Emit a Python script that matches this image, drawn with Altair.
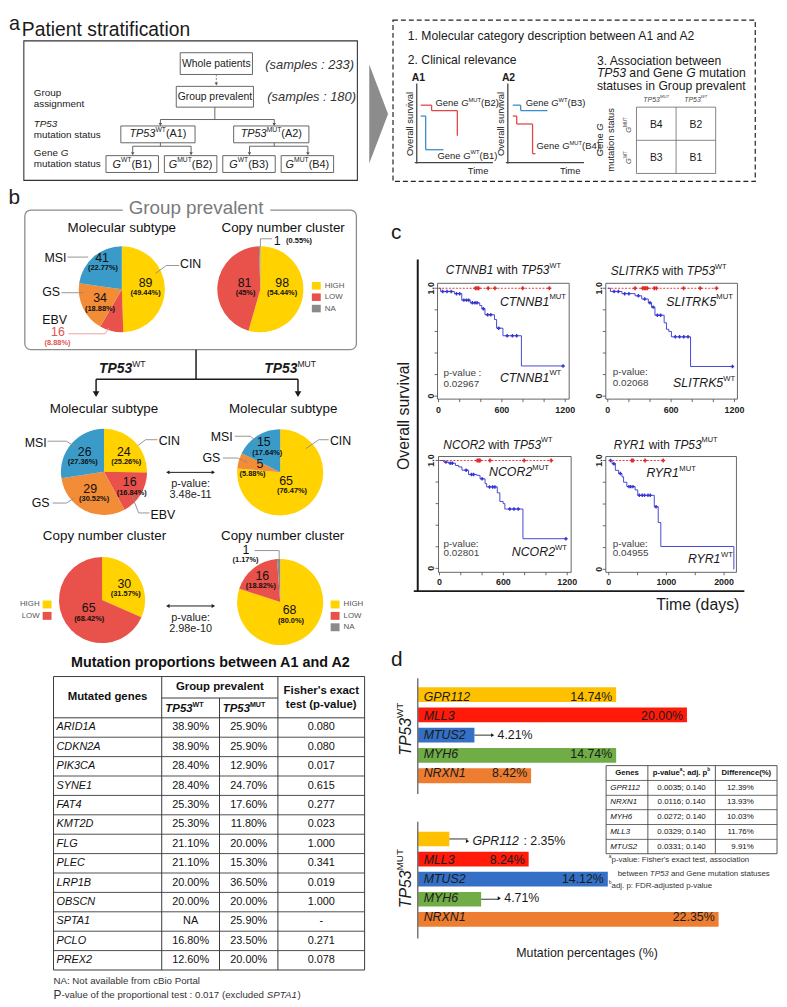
import altair as alt
import pandas as pd

FONT = "Liberation Sans"
OX, OY = 8, 8
W, H = 779, 999
INK = "#1a1a1a"

# ====================================================================== DATA
samples_whole = 233
samples_prev = 180

gp_sub_cat = ["CIN", "EBV", "GS", "MSI"]
gp_sub_n = [89, 16, 34, 41]
gp_sub_pct = ["49.44%", "8.88%", "18.88%", "22.77%"]
gp_cn_cat = ["HIGH", "LOW", "NA"]
gp_cn_n = [98, 81, 1]
gp_cn_pct = ["54.44%", "45%", "0.55%"]
wt_sub_cat = ["CIN", "EBV", "GS", "MSI"]
wt_sub_n = [24, 16, 29, 26]
wt_sub_pct = ["25.26%", "16.84%", "30.52%", "27.36%"]
mut_sub_cat = ["CIN", "GS", "MSI"]
mut_sub_n = [65, 5, 15]
mut_sub_pct = ["76.47%", "5.88%", "17.64%"]
wt_cn_cat = ["HIGH", "LOW"]
wt_cn_n = [30, 65]
wt_cn_pct = ["31.57%", "68.42%"]
mut_cn_cat = ["HIGH", "LOW", "NA"]
mut_cn_n = [68, 16, 1]
mut_cn_pct = ["80.0%", "18.82%", "1.17%"]
p_subtype = "3.48e-11"
p_cn = "2.98e-10"

tbl_genes = ["ARID1A", "CDKN2A", "PIK3CA", "SYNE1", "FAT4", "KMT2D", "FLG",
             "PLEC", "LRP1B", "OBSCN", "SPTA1", "PCLO", "PREX2"]
tbl_wt = ["38.90%", "38.90%", "28.40%", "28.40%", "25.30%", "25.30%", "21.10%",
          "21.10%", "20.00%", "20.00%", "NA", "16.80%", "12.60%"]
tbl_mut = ["25.90%", "25.90%", "12.90%", "24.70%", "17.60%", "11.80%", "20.00%",
           "15.30%", "36.50%", "20.00%", "25.90%", "23.50%", "20.00%"]
tbl_fisher = ["0.080", "0.080", "0.017", "0.615", "0.277", "0.023", "1.000",
              "0.341", "0.019", "1.000", "-", "0.271", "0.078"]
prop_test_p = "0.017"

km_genes = ["CTNNB1", "SLITRK5", "NCOR2", "RYR1"]
km_status = ["WT", "WT", "WT", "MUT"]
km_pvals = ["0.02967", "0.02068", "0.02801", "0.04955"]

km1_t = [0, 20, 150, 220, 300, 390, 410, 440, 530, 550, 610, 785, 1180]
km1_s = [1.0, 0.97, 0.95, 0.89, 0.865, 0.84, 0.81, 0.755, 0.71, 0.63, 0.56, 0.28, 0.28]
km1_ct = [40, 80, 120, 170, 200, 240, 265, 285, 320, 345, 365, 425, 465, 495, 570, 650, 700, 740, 1180]
km1_cs = [0.97, 0.97, 0.97, 0.95, 0.95, 0.89, 0.89, 0.89, 0.865, 0.865, 0.865, 0.81, 0.755, 0.755,
          0.63, 0.56, 0.56, 0.56, 0.28]
km1_mut_end = 1050
km1_mut_c = [350, 365, 380, 470, 534, 797, 1050]

km2_t = [0, 25, 134, 259, 322, 384, 415, 447, 534, 556, 578, 603, 784, 1181]
km2_s = [1.0, 0.97, 0.95, 0.93, 0.90, 0.865, 0.825, 0.75, 0.68, 0.62, 0.60, 0.55, 0.275, 0.275]
km2_ct = [60, 100, 160, 200, 290, 350, 400, 430, 470, 500, 640, 680, 720, 760, 1181]
km2_cs = [0.97, 0.97, 0.95, 0.95, 0.93, 0.90, 0.865, 0.825, 0.75, 0.75, 0.55, 0.55, 0.55, 0.55, 0.275]
km2_mut_end = 1040
km2_mut_c = [259, 330, 345, 360, 375, 440, 460, 718, 875, 1030]

km3_t = [0, 40, 87, 149, 180, 211, 273, 350, 381, 428, 443, 543, 567, 598, 614, 784, 1188]
km3_s = [1.0, 0.985, 0.975, 0.954, 0.94, 0.91, 0.87, 0.862, 0.83, 0.786, 0.755, 0.70, 0.62,
         0.60, 0.55, 0.275, 0.275]
km3_ct = [60, 100, 120, 250, 300, 320, 400, 470, 500, 520, 660, 700, 740, 1188]
km3_cs = [0.985, 0.975, 0.975, 0.91, 0.87, 0.87, 0.83, 0.755, 0.755, 0.755, 0.55, 0.55, 0.55, 0.275]
km3_mut_end = 1050
km3_mut_c = [355, 370, 380, 474, 795, 1050]

km4_t = [0, 57, 114, 171, 229, 257, 314, 457, 503, 789, 858, 903, 2170]
km4_s = [1.0, 0.97, 0.91, 0.88, 0.85, 0.80, 0.76, 0.73, 0.68, 0.575, 0.43, 0.21, 0.0]
km4_ct = [30, 90, 200, 350, 380, 420, 530, 580, 620, 680, 720, 820]
km4_cs = [1.0, 0.97, 0.88, 0.76, 0.76, 0.76, 0.68, 0.68, 0.68, 0.68, 0.68, 0.575]
km4_mut_end = 943
km4_mut_c = [400, 420, 630, 943]

km_xticks_a = [0, 200, 400, 600, 800, 1000, 1200]
km_xlabels_a = [0, 600, 1200]
km_xticks_b = [0, 500, 1000, 1500, 2000]
km_xlabels_b = [0, 1000, 2000]
km_yticks = [0, 0.2, 0.4, 0.6, 0.8, 1.0]
km_ylabels = ["0", "1.0"]
km_ylabel_vals = [0.0, 1.0]

d_genes = ["GPR112", "MLL3", "MTUS2", "MYH6", "NRXN1"]
d_wt = [14.74, 20.00, 4.21, 14.74, 8.42]
d_mut = [2.35, 8.24, 14.12, 4.71, 22.35]
d_tbl_genes = ["GPR112", "NRXN1", "MYH6", "MLL3", "MTUS2"]
d_tbl_p = ["0.0035; 0.140", "0.0116; 0.140", "0.0272; 0.140", "0.0329; 0.140", "0.0331; 0.140"]
d_tbl_diff = ["12.39%", "13.93%", "10.03%", "11.76%", "9.91%"]

# ====================================================================== STYLE
YEL, RED, ORA, BLU, GRY = "#FFD200", "#E8524A", "#F28C36", "#3A9BC8", "#8A8A8A"
cat_domain = ["CIN", "EBV", "GS", "MSI", "HIGH", "LOW", "NA"]
cat_colors = [YEL, RED, ORA, BLU, YEL, RED, GRY]
bar_colors = ["#FFC000", "#FF1A0A", "#3470C6", "#70AD47", "#ED7D31"]
KM_BLUE, KM_RED = "#3434CF", "#E02B2B"

# ====================================================================== helpers
_UP = "ABCDEFGHIJKLMNOPQRSTUVWXYZ"
_LO = "abcdefghijklmnopqrstuvwxyz"
_RW = dict(zip(_UP, [667, 667, 722, 722, 667, 611, 778, 722, 278, 500, 667, 556, 833, 722, 778, 667,
                     778, 722, 667, 611, 722, 667, 944, 667, 667, 611]))
_RW.update(zip(_LO, [556, 556, 500, 556, 556, 278, 556, 556, 222, 222, 500, 222, 833, 556, 556, 556,
                     556, 333, 500, 278, 556, 500, 722, 500, 500, 500]))
_BW = dict(zip(_UP, [722, 722, 722, 722, 667, 611, 778, 722, 278, 556, 722, 611, 833, 722, 778, 667,
                     778, 722, 667, 611, 722, 667, 944, 667, 667, 611]))
_BW.update(zip(_LO, [556, 611, 556, 611, 556, 333, 611, 611, 278, 278, 556, 278, 889, 611, 611, 611,
                     611, 389, 556, 333, 611, 556, 778, 556, 556, 500]))
for _d, _p in ((_RW, {" ": 278, "%": 889, "'": 191, "(": 333, ")": 333, ",": 278, "-": 333, ".": 278, ":": 278, ";": 278}),
               (_BW, {" ": 278, "%": 889, "'": 238, "(": 333, ")": 333, ",": 278, "-": 333, ".": 278, ":": 333, ";": 333})):
    _d.update(_p)
    for _c in "0123456789":
        _d[_c] = 556


def tw(s, size, bold=False):
    d = _BW if bold else _RW
    return sum(d.get(c, 556) for c in s) * size / 1000.0


texts, segs, boxes, fills, tris = [], [], [], [], []


def T(x, y, s, size=10, color=INK, style="normal", weight="normal", align="left", angle=0):
    texts.append(dict(x=x - OX, y=y - OY, t=str(s), fs=size, c=color, st=style, w=weight, al=align, ang=angle))


def RT(x, y, parts, size, align="left", color=INK, angle=0):
    items = []
    for s, fl in parts:
        sup = "s" in fl
        fs = size * 0.62 if sup else size
        b = "b" in fl
        items.append((s, fs, "italic" if "i" in fl else "normal", "bold" if b else "normal", sup, tw(s, fs, b), b))
    total = sum(it[5] for it in items)
    off = {"left": 0.0, "center": -total / 2.0, "right": -total}[align]
    for s, fs, st, wt, sup, w, b in items:
        rise = size * 0.38 if sup else 0.0
        lead = tw(s[:len(s) - len(s.lstrip())], fs, b)
        core = s.strip()
        if core:
            if angle == 270:
                T(x - rise, y - off - lead, core, fs, color, st, wt, "left", 270)
            else:
                T(x + off + lead, y - rise, core, fs, color, st, wt, "left", 0)
        off += w


def L(x1, y1, x2, y2, color=INK, w=1.0, dash="solid"):
    segs.append(dict(x=x1 - OX, y=y1 - OY, x2=x2 - OX, y2=y2 - OY, c=color, sw=w, d=dash))


def POLY(color, pts, w=1.3):
    for (a, b), (c, d) in zip(pts[:-1], pts[1:]):
        L(a, b, c, d, color, w)


def B(x1, y1, x2, y2, color=INK, w=1.0, kind="plain"):
    boxes.append(dict(x=x1 - OX, y=y1 - OY, x2=x2 - OX, y2=y2 - OY, c=color, sw=w, k=kind))


def F(x1, y1, x2, y2, color):
    fills.append(dict(x=x1 - OX, y=y1 - OY, x2=x2 - OX, y2=y2 - OY, c=color))


def A(x, y, shape, size=14, color=INK):
    tris.append(dict(x=x - OX, y=y - OY, sh=shape, s=size, c=color))


def IX(f):
    return alt.X(f, scale=None, axis=None)


def IY(f):
    return alt.Y(f, scale=None, axis=None)


data_layers = []

# ====================================================================== PANEL a
T(9, 19, "a", 20)
T(22, 25, "Patient stratification", 19.5)
B(24, 36, 361, 177, "#333333", 1.1)
B(182, 48, 255, 70, "#555555", 0.9)
T(218.5, 59.5, "Whole patients", 10.5, "#222", align="center")
T(268, 60, f"(samples : {samples_whole})", 13, "#333", style="italic")
L(218.5, 70, 218.5, 78, "#777", 0.9, "2,1.5")
A(218.5, 79.5, "triangle-down", 12, "#555")
B(178, 82, 256, 103, "#555555", 0.9)
T(217, 92.5, "Group prevalent", 10.5, "#222", align="center")
T(270, 93, f"(samples : {samples_prev})", 13, "#333", style="italic")
T(34, 89, "Group", 10)
T(34, 100, "assignment", 10)
L(217, 103, 217, 115.5, "#555", 0.9)
L(162, 115.5, 277, 115.5, "#555", 0.9)
for xx in (162, 277):
    L(xx, 115.5, xx, 119.5, "#555", 0.9)
    A(xx, 120.5, "triangle-down", 12, "#555")
T(34, 120.5, "TP53", 10, style="italic")
T(34, 131.5, "mutation status", 10)
B(122, 122, 197, 139, "#555555", 0.9)
RT(159.5, 130.5, [("TP53", "i"), ("WT", "s"), ("(A1)", "")], 11, "center", "#222")
B(236, 122, 312, 139, "#555555", 0.9)
RT(274, 130.5, [("TP53", "i"), ("MUT", "s"), ("(A2)", "")], 11, "center", "#222")
L(162, 139, 162, 142.5, "#555", 0.9)
L(277, 139, 277, 142.5, "#555", 0.9)
L(134, 142.5, 193, 142.5, "#555", 0.9)
L(252, 142.5, 311, 142.5, "#555", 0.9)
for xx in (134, 193, 252, 311):
    L(xx, 142.5, xx, 149, "#555", 0.9)
    A(xx, 150, "triangle-down", 12, "#555")
for i, (x1, x2) in enumerate([(107, 160), (166, 219), (225, 278), (284, 337)]):
    B(x1, 152, x2, 169, "#555555", 0.9)
    RT((x1 + x2) / 2, 161, [("G", "i"), ("WT" if i % 2 == 0 else "MUT", "s"), (f"(B{i + 1})", "")], 11, "center", "#222")
RT(34, 149.5, [("Gene ", ""), ("G", "i")], 10)
T(34, 160, "mutation status", 10)

chev = pd.DataFrame({"x": [373 - OX, 392 - OX], "y": [60 - OY, 110 - OY], "y2": [160 - OY, 110 - OY]})
data_layers.append(alt.Chart(chev).mark_area(color="#8c8c8c").encode(x=IX("x:Q"), y=IY("y:Q"), y2="y2:Q"))

B(397, 15, 763, 178, "#222222", 1.2, "dash")
T(412, 31.5, "1. Molecular category description between A1 and A2", 12.3)
T(412, 55.5, "2. Clinical relevance", 12.3)
T(603, 56, "3. Association between", 12.3)
RT(603, 69, [("TP53", "i"), (" and Gene ", ""), ("G", "i"), (" mutation", "")], 12.3)
T(603, 82, "statuses in Group prevalent", 12.3)
T(416, 74, "A1", 10.5, weight="bold")
T(507, 74, "A2", 10.5, weight="bold")
for ax in (421, 513):
    L(ax, 79, ax, 160, "#444", 1.3)
    L(ax - 2, 159, ax + 77, 159, "#444", 1.3)
    T(ax - 6.5, 120, "Overall survival", 9.5, align="center", angle=270)
T(483, 167.5, "Time", 9.5, align="center")
T(576, 167.5, "Time", 9.5, align="center")
RS, BS = "#E0474C", "#3A8CC8"
POLY(RS, [(425, 101), (436, 101), (436, 106.5), (462, 106.5), (462, 132)])
POLY(BS, [(425, 112), (430, 112), (430, 146), (448, 146)])
POLY(BS, [(518, 101), (526, 101), (526, 106.5), (553, 106.5)])
POLY(RS, [(518, 112), (522, 112), (522, 120), (538, 120), (538, 150), (541, 150)])
RT(440, 99, [("Gene ", ""), ("G", "i"), ("MUT", "s"), ("(B2)", "")], 9.5)
RT(442, 152, [("Gene ", ""), ("G", "i"), ("WT", "s"), ("(B1)", "")], 9.5)
RT(531, 99, [("Gene ", ""), ("G", "i"), ("WT", "s"), ("(B3)", "")], 9.5)
RT(542, 142.5, [("Gene ", ""), ("G", "i"), ("MUT", "s"), ("(B4)", "")], 9.5)
B(643, 103, 723, 170, "#666666", 0.8)
L(683, 103, 683, 170, "#666", 0.8)
L(643, 136.5, 723, 136.5, "#666", 0.8)
T(663, 121, "B4", 10.5, align="center")
T(703, 121, "B2", 10.5, align="center")
T(663, 154, "B3", 10.5, align="center")
T(703, 154, "B1", 10.5, align="center")
RT(663, 95.5, [("TP53", "i"), ("MUT", "si")], 7, "center", "#444")
RT(703, 95.5, [("TP53", "i"), ("WT", "si")], 7, "center", "#444")
RT(635, 121, [("G", "i"), ("MUT", "s")], 7.5, "center", "#444", angle=270)
RT(635, 154, [("G", "i"), ("WT", "s")], 7.5, "center", "#444", angle=270)
RT(606, 136, [("Gene ", ""), ("G", "i")], 9.5, "center", angle=270)
T(617, 136, "mutation status", 9.5, align="center", angle=270)

# ====================================================================== PANEL b
T(8.5, 194.7, "b", 21)
B(25, 207, 360, 348, "#8c8c8c", 1.3, "round")
F(124, 198, 273, 214, "white")
T(198, 204.5, "Group prevalent", 19, "#7a7a7a", align="center")
T(123, 225, "Molecular subtype", 13.5, "#111", align="center")
T(286, 225, "Copy number cluster", 13.5, "#111", align="center")

R_PIE = 43.5
PGAP = 10.5
pie_specs = [
    (gp_sub_cat, gp_sub_n, gp_sub_pct, 123, 287,
     {"CIN": ((147, 280.5), 147), "EBV": ((58.5, 330.5), 58),
      "GS": ((101, 296), 101), "MSI": ((103, 255.5), 104)}),
    (gp_cn_cat, gp_cn_n, gp_cn_pct, 263, 287,
     {"HIGH": ((285, 280.5), 285), "LOW": ((247, 280.5), 248),
      "NA": ((280, 238.5), None)}),
    (wt_sub_cat, wt_sub_n, wt_sub_pct, 105, 471.5,
     {"CIN": ((125, 451), 127.5), "EBV": ((131, 482), 133),
      "GS": ((91, 488.5), 95), "MSI": ((85.5, 451), 83.5)}),
    (mut_sub_cat, mut_sub_n, mut_sub_pct, 283, 472,
     {"CIN": ((289, 480.5), 295), "GS": ((262.5, 463.5), 255),
      "MSI": ((266.5, 441.5), 270)}),
    (wt_cn_cat, wt_cn_n, wt_cn_pct, 103, 601,
     {"HIGH": ((125.5, 584.5), 127), "LOW": ((89.5, 609.5), 90)}),
    (mut_cn_cat, mut_cn_n, mut_cn_pct, 283, 603,
     {"HIGH": ((292.5, 611.5), 294), "LOW": ((265, 576.5), 263.5),
      "NA": ((248.5, 550), 248)}),
]
for pi, (cats, ns, pcts, cx, cy, lp) in enumerate(pie_specs):
    pdf = pd.DataFrame({"cat": cats, "n": ns, "k": list(range(len(cats)))})
    data_layers.append(
        alt.Chart(pdf).mark_arc(outerRadius=R_PIE).encode(
            theta=alt.Theta("n:Q", stack=True),
            order=alt.Order("k:Q"),
            color=alt.Color("cat:N", scale=alt.Scale(domain=cat_domain, range=cat_colors), legend=None),
            x=alt.value(cx - OX), y=alt.value(cy - OY)))
    for c, n, p in zip(cats, ns, pcts):
        (nx, ny), px = lp[c]
        col = "#E0554F" if (pi == 0 and c == "EBV") else "#111"
        T(nx, ny, n, 12.5, col, align="center")
        if px is None:
            T(nx + 9, ny, f"({p})", 7.5, col, weight="bold", align="left")
        else:
            T(px, ny + PGAP, f"({p})", 7.5, col, weight="bold", align="center")

LC = "#8a8a8a"
T(56, 255, "MSI", 12.5, "#111", align="center"); L(68, 254.5, 89, 254.5, LC, 0.9)
T(51.5, 290, "GS", 12.5, "#111", align="center"); L(62, 290.5, 84, 290.5, LC, 0.9)
T(192.5, 262, "CIN", 12.5, "#111", align="center"); L(181, 263, 168, 263, LC, 0.9); L(168, 263, 157, 271, LC, 0.9)
T(55, 318, "EBV", 12.5, "#111", align="center"); L(69, 332, 106, 332, "#E89A95", 0.9); L(106, 332, 110, 326, "#E89A95", 0.9)
L(263, 244, 263, 236, LC, 0.9); L(263, 236, 275, 236, LC, 0.9)
for lab, yy, col in zip(gp_cn_cat, (283.5, 295, 306.5), (YEL, RED, GRY)):
    F(315, yy - 3.8, 324, yy + 3.8, col)
    T(328, yy, lab, 8, "#555")

L(198, 348, 198, 378, INK, 1.5)
L(97, 378, 301, 378, INK, 1.5)
for xx in (97, 301):
    L(xx, 378, xx, 391, INK, 1.5)
    A(xx, 393, "triangle-down", 45, INK)
RT(100, 368, [("TP53", "bi"), ("WT", "s")], 14)
RT(267, 368, [("TP53", "bi"), ("MUT", "s")], 14)
T(105, 408.5, "Molecular subtype", 13.5, "#111", align="center")
T(286, 408.5, "Molecular subtype", 13.5, "#111", align="center")

T(36, 442, "MSI", 12.5, "#111", align="center"); L(48, 440.5, 67, 440.5, LC, 0.9); L(67, 440.5, 77, 447, LC, 0.9)
T(171, 440, "CIN", 12.5, "#111", align="center"); L(159, 439, 147, 439, LC, 0.9); L(147, 439, 139, 445, LC, 0.9)
T(41, 503, "GS", 12.5, "#111", align="center"); L(53, 503, 67, 503, LC, 0.9); L(67, 503, 75, 498, LC, 0.9)
T(164.5, 515, "EBV", 12.5, "#111", align="center"); L(133, 495, 140, 513, LC, 0.9); L(140, 513, 151, 513, LC, 0.9)
T(224, 436, "MSI", 12.5, "#111", align="center"); L(237, 435.5, 253, 435.5, LC, 0.9); L(253, 435.5, 262, 444, LC, 0.9)
T(213.5, 458, "GS", 12.5, "#111", align="center"); L(225, 457.5, 240, 457.5, LC, 0.9); L(240, 457.5, 250, 462, LC, 0.9)
T(344, 440, "CIN", 12.5, "#111", align="center"); L(332, 439, 322, 439, LC, 0.9); L(322, 439, 309, 448, LC, 0.9)

for yy, pv, ty in ((472, p_subtype, 484), (607, p_cn, 619)):
    L(171, yy, 214, yy, INK, 1.0)
    A(169.5, yy, "triangle-left", 16, INK)
    A(215.5, yy, "triangle-right", 16, INK)
    T(192.5, ty, "p-value:", 11, "#222", align="center")
    T(192.5, ty + 11, pv, 11, "#222", align="center")

T(105.5, 536.5, "Copy number cluster", 13.5, "#111", align="center")
T(285.5, 536.5, "Copy number cluster", 13.5, "#111", align="center")
for lab, yy, col in zip(wt_cn_cat, (605.5, 617), (YEL, RED)):
    F(43, yy - 4, 52, yy + 4, col)
    T(40, yy, lab, 8, "#555", align="right")
for lab, yy, col in zip(mut_cn_cat, (605.5, 617, 628.5), (YEL, RED, GRY)):
    F(334, yy - 4, 343, yy + 4, col)
    T(347, yy, lab, 8, "#555")
L(257, 551, 282, 551, LC, 0.9); L(282, 551, 282, 561, LC, 0.9)

# table
T(212.5, 665, "Mutation proportions between A1 and A2", 14.5, "#111", weight="bold", align="center")
ytop, yh1, yh2, rh = 678.3, 700, 720, 19.6
cols = [54, 163.3, 221.7, 280.7, 368.3]
ybot = yh2 + len(tbl_genes) * rh
TC = "#3a3a3a"
B(cols[0], ytop, cols[4], ybot, TC, 1.0)
L(cols[1], ytop, cols[1], ybot, TC, 1.0)
L(cols[3], ytop, cols[3], ybot, TC, 1.0)
L(cols[2], yh1, cols[2], ybot, TC, 1.0)
L(cols[1], yh1, cols[3], yh1, TC, 1.0)
L(cols[0], yh2, cols[4], yh2, TC, 1.0)
for i in range(1, len(tbl_genes)):
    L(cols[0], yh2 + i * rh, cols[4], yh2 + i * rh, TC, 0.9)
T(108.5, 699, "Mutated genes", 11.5, "#111", weight="bold", align="center")
T(222, 689, "Group prevalent", 11.5, "#111", weight="bold", align="center")
RT(167, 711, [("TP53", "bi"), ("WT", "sb")], 11.5, color="#111")
RT(225, 711, [("TP53", "bi"), ("MUT", "sb")], 11.5, color="#111")
T(324.5, 692.5, "Fisher's exact", 11.5, "#111", weight="bold", align="center")
T(324.5, 707.5, "test (p-value)", 11.5, "#111", weight="bold", align="center")
for i, (g, a, b, f) in enumerate(zip(tbl_genes, tbl_wt, tbl_mut, tbl_fisher)):
    yc = yh2 + (i + 0.5) * rh
    T(57, yc, g, 11, "#111", style="italic")
    T((cols[1] + cols[2]) / 2, yc, a, 11, "#111", align="center")
    T((cols[2] + cols[3]) / 2, yc, b, 11, "#111", align="center")
    T((cols[3] + cols[4]) / 2, yc, f, 11, "#111", align="center")
T(54, 986, "NA: Not available from cBio Portal", 9.8, "#333")
T(54, 1000, "P", 12, "#333")
RT(62, 1000.5, [("-value of the proportional test : " + prop_test_p + " (excluded ", ""),
                ("SPTA1", "i"), (")", "")], 9.8, color="#333")

# ====================================================================== PANEL c
T(395, 230.6, "c", 21)
L(422, 257, 422, 592, INK, 2)
L(418, 592, 752, 592, INK, 2)
T(408.5, 415, "Overall survival", 16, align="center", angle=270)
T(705, 606.5, "Time (days)", 16, align="center")

km_data = [(km1_t, km1_s, km1_ct, km1_cs, km1_mut_end, km1_mut_c),
           (km2_t, km2_s, km2_ct, km2_cs, km2_mut_end, km2_mut_c),
           (km3_t, km3_s, km3_ct, km3_cs, km3_mut_end, km3_mut_c),
           (km4_t, km4_s, km4_ct, km4_cs, km4_mut_end, km4_mut_c)]
km_layout = [
    dict(frame=(442, 281, 575, 398), xr=(443, 571), yr=(395, 286), ylx=435, xly=409, dom=[0, 1200],
         ticks=km_xticks_a, labs=km_xlabels_a, title=(508.5, 268), mut=(505, 299.5), wt=(505, 376.5),
         pv=(448, 372, 383), pvlab="p-value :"),
    dict(frame=(612, 281, 745, 398), xr=(614, 742), yr=(395, 286), ylx=605, xly=409, dom=[0, 1200],
         ticks=km_xticks_a, labs=km_xlabels_a, title=(675.5, 269), mut=(673, 300), wt=(680, 382),
         pv=(619, 371, 382), pvlab="p-value:"),
    dict(frame=(443, 456, 577, 573), xr=(444, 573), yr=(569, 460), ylx=435, xly=582.5, dom=[0, 1200],
         ticks=km_xticks_a, labs=km_xlabels_a, title=(503, 444), mut=(494, 472), wt=(517, 553),
         pv=(448, 544, 554), pvlab="p-value:"),
    dict(frame=(612, 456, 744, 573), xr=(615, 731.5), yr=(570, 460), ylx=605, xly=582.5, dom=[0, 2000],
         ticks=km_xticks_b, labs=km_xlabels_b, title=(672.5, 444), mut=(653, 473), wt=(695, 560),
         pv=(619, 544, 554), pvlab="p-value:"),
]
for (t, s, ct, cs, mend, mc), lay, gene, stat, pval in zip(km_data, km_layout, km_genes, km_status, km_pvals):
    fx0, fy0, fx1, fy1 = lay["frame"]
    B(fx0, fy0, fx1, fy1, "#555555", 0.9)
    xs = alt.Scale(domain=lay["dom"], range=[lay["xr"][0] - OX, lay["xr"][1] - OX])
    ys = alt.Scale(domain=[0, 1], range=[lay["yr"][0] - OY, lay["yr"][1] - OY])
    KX = alt.X("t:Q", scale=xs, axis=None)
    KY = alt.Y("s:Q", scale=ys, axis=None)
    data_layers.append(alt.Chart(pd.DataFrame({"t": t, "s": s})).mark_line(
        interpolate="step-after", color=KM_BLUE, strokeWidth=0.9).encode(x=KX, y=KY))
    data_layers.append(alt.Chart(pd.DataFrame({"t": ct, "s": cs})).mark_point(
        shape="cross", filled=True, size=12, color=KM_BLUE, opacity=1).encode(x=KX, y=KY))
    data_layers.append(alt.Chart(pd.DataFrame({"t": [0, mend], "s": [1.0, 1.0]})).mark_line(
        color=KM_RED, strokeWidth=0.9, strokeDash=[2, 1.5]).encode(x=KX, y=KY))
    data_layers.append(alt.Chart(pd.DataFrame({"t": mc, "s": [1.0] * len(mc)})).mark_point(
        shape="cross", filled=True, size=16, color=KM_RED, opacity=1).encode(x=KX, y=KY))
    data_layers.append(alt.Chart(pd.DataFrame({"t": lay["ticks"]})).mark_rule(color="#444", strokeWidth=0.8).encode(
        x=KX, y=alt.value(fy1 - OY), y2=alt.value(fy1 + 3 - OY)))
    data_layers.append(alt.Chart(pd.DataFrame({"t": lay["labs"], "lab": [str(v) for v in lay["labs"]]})).mark_text(
        font=FONT, fontSize=9, fontWeight="bold", color="#222", baseline="middle").encode(
        x=KX, y=alt.value(lay["xly"] - OY), text="lab:N"))
    data_layers.append(alt.Chart(pd.DataFrame({"s": km_yticks})).mark_rule(color="#444", strokeWidth=0.8).encode(
        y=KY, x=alt.value(fx0 - 3 - OX), x2=alt.value(fx0 - OX)))
    data_layers.append(alt.Chart(pd.DataFrame({"s": km_ylabel_vals, "lab": km_ylabels})).mark_text(
        font=FONT, fontSize=9, fontWeight="bold", color="#222", baseline="middle", align="center", angle=270).encode(
        y=KY, x=alt.value(lay["ylx"] - OX), text="lab:N"))
    tx, ty = lay["title"]
    RT(tx, ty, [(gene, "i"), (" with ", ""), ("TP53", "i"), (stat, "s")], 12, "center")
    RT(lay["mut"][0], lay["mut"][1], [(gene, "i"), ("MUT", "s")], 12.5)
    RT(lay["wt"][0], lay["wt"][1], [(gene, "i"), ("WT", "s")], 12.5)
    T(lay["pv"][0], lay["pv"][1], lay["pvlab"], 10, "#444")
    T(lay["pv"][0], lay["pv"][2], pval, 10, "#444")

# ====================================================================== PANEL d
T(395, 662, "d", 21)
L(422, 680, 422, 797, "#777", 1.5)
L(422, 825, 422, 943, "#777", 1.5)
RT(410, 731.5, [("TP53", "i"), ("WT", "s")], 16, "center", angle=270)
RT(410, 882.5, [("TP53", "i"), ("MUT", "s")], 16, "center", angle=270)
T(593, 957.5, "Mutation percentages (%)", 12.5, align="center")

PXU = 13.6
dmax = max(d_wt + d_mut)
bx = alt.Scale(domain=[0, dmax], range=[422 - OX, 422 + PXU * dmax - OX])
ARROW = 1.35
BF = 12.5
for vals, (y0, y1) in ((d_wt, (689, 786)), (d_mut, (835, 931))):
    df = pd.DataFrame({"gene": d_genes, "v": vals})
    df["lab"] = [f"{v:.2f}%" for v in vals]
    df["lab2"] = [": " + l for l in df["lab"]]
    df["z"] = 0.0
    df["v2"] = df["v"] + ARROW
    df["v3"] = [a + (5 + tw(g + " ", BF)) / PXU for a, g in zip(df["v2"], d_genes)]
    ys = alt.Scale(domain=d_genes, range=[y0 - OY, y1 - OY], paddingInner=0.27, paddingOuter=0)
    YB = alt.Y("gene:N", scale=ys, axis=None)
    base = alt.Chart(df)
    data_layers.append(base.mark_bar().encode(
        x=alt.X("v:Q", scale=bx, axis=None), y=YB,
        color=alt.Color("gene:N", scale=alt.Scale(domain=d_genes, range=bar_colors), legend=None)))
    tk = dict(font=FONT, fontSize=BF, baseline="middle", color=INK)
    data_layers.append(base.transform_filter("datum.v >= 3").mark_text(
        align="left", dx=6, fontStyle="italic", **tk).encode(
        x=alt.X("z:Q", scale=bx, axis=None), y=YB, text="gene:N"))
    data_layers.append(base.transform_filter("datum.v >= 5").mark_text(
        align="right", dx=-4, **tk).encode(x=alt.X("v:Q", scale=bx, axis=None), y=YB, text="lab:N"))
    data_layers.append(base.transform_filter("datum.v < 5").mark_rule(color=INK, strokeWidth=0.9).encode(
        x=alt.X("v:Q", scale=bx, axis=None), x2="v2:Q", y=YB))
    data_layers.append(base.transform_filter("datum.v < 5").mark_point(
        shape="triangle-right", filled=True, size=14, color=INK, opacity=1).encode(
        x=alt.X("v2:Q", scale=bx, axis=None), y=YB))
    data_layers.append(base.transform_filter("datum.v >= 3 && datum.v < 5").mark_text(
        align="left", dx=5, **tk).encode(x=alt.X("v2:Q", scale=bx, axis=None), y=YB, text="lab:N"))
    data_layers.append(base.transform_filter("datum.v < 3").mark_text(
        align="left", dx=5, fontStyle="italic", **tk).encode(
        x=alt.X("v2:Q", scale=bx, axis=None), y=YB, text="gene:N"))
    data_layers.append(base.transform_filter("datum.v < 3").mark_text(
        align="left", dx=0, **tk).encode(x=alt.X("v3:Q", scale=bx, axis=None), y=YB, text="lab2:N"))

# table d
dcols = [612.3, 654.5, 722.7, 785]
drows = [768.3, 783.3, 798.3, 812.8, 827.8, 842.8, 857.3]
B(dcols[0], drows[0], dcols[3], drows[-1], "#444444", 0.9)
for xx in dcols[1:3]:
    L(xx, drows[0], xx, drows[-1], "#444", 0.9)
for yy in drows[1:-1]:
    L(dcols[0], yy, dcols[3], yy, "#444", 0.8)
T(633.5, 776, "Genes", 7.8, "#111", weight="bold", align="center")
RT(688.5, 776, [("p-value", "b"), ("a", "sb"), ("; adj. p", "b"), ("b", "sb")], 7.8, "center", "#111")
T(754, 776, "Difference(%)", 7.8, "#111", weight="bold", align="center")
for i, (g, p, dd) in enumerate(zip(d_tbl_genes, d_tbl_p, d_tbl_diff)):
    yc = (drows[i + 1] + drows[i + 2]) / 2
    T(616.5, yc, g, 8, "#111", style="italic")
    T(688.5, yc, p, 8, "#111", align="center")
    T(761.5, yc, dd, 8, "#111", align="right")
RT(615, 864, [("a", "s"), ("p-value: Fisher's exact test, association", "")], 8, color="#333")
RT(624, 877.5, [("between ", ""), ("TP53", "i"), (" and Gene mutation statuses", "")], 8, color="#333")
RT(615, 890, [("b", "s"), ("adj. p: FDR-adjusted p-value", "")], 8, color="#333")

# ====================================================================== build layers
layers = []
bdf = pd.DataFrame(boxes)
for kind, g in bdf.groupby("k"):
    mk = dict(fillOpacity=0)
    if kind == "dash":
        mk["strokeDash"] = [5, 3]
    if kind == "round":
        mk["cornerRadius"] = 6
    layers.append(alt.Chart(g.reset_index(drop=True)).mark_rect(**mk).encode(
        x=IX("x:Q"), x2="x2:Q", y=IY("y:Q"), y2="y2:Q",
        stroke=alt.Stroke("c:N", scale=None, legend=None),
        strokeWidth=alt.StrokeWidth("sw:Q", scale=None, legend=None)))
layers.append(alt.Chart(pd.DataFrame(fills)).mark_rect().encode(
    x=IX("x:Q"), x2="x2:Q", y=IY("y:Q"), y2="y2:Q",
    color=alt.Color("c:N", scale=None, legend=None)))
layers += data_layers
sdf = pd.DataFrame(segs)
for dash, g in sdf.groupby("d"):
    mk = dict(strokeCap="butt")
    if dash != "solid":
        mk["strokeDash"] = [float(v) for v in dash.split(",")]
    layers.append(alt.Chart(g.reset_index(drop=True)).mark_rule(**mk).encode(
        x=IX("x:Q"), x2="x2:Q", y=IY("y:Q"), y2="y2:Q",
        color=alt.Color("c:N", scale=None, legend=None),
        size=alt.Size("sw:Q", scale=None, legend=None)))
tdf_ = pd.DataFrame(tris)
for sh, g in tdf_.groupby("sh"):
    layers.append(alt.Chart(g.reset_index(drop=True)).mark_point(filled=True, shape=sh, opacity=1).encode(
        x=IX("x:Q"), y=IY("y:Q"),
        color=alt.Color("c:N", scale=None, legend=None),
        size=alt.Size("s:Q", scale=None, legend=None)))
xdf = pd.DataFrame(texts)
for (st, wt, al), g in xdf.groupby(["st", "w", "al"]):
    layers.append(alt.Chart(g.reset_index(drop=True)).mark_text(
        font=FONT, fontStyle=st, fontWeight=wt, align=al, baseline="middle").encode(
        x=IX("x:Q"), y=IY("y:Q"), text=alt.Text("t:N"),
        size=alt.Size("fs:Q", scale=None, legend=None),
        color=alt.Color("c:N", scale=None, legend=None),
        angle=alt.Angle("ang:Q", scale=None, legend=None)))

chart = alt.layer(*layers).resolve_scale(
    x="independent", y="independent", theta="independent", color="independent"
).properties(
    width=W, height=H, padding=0, background="white",
    autosize=alt.AutoSizeParams(type="none")
).configure_view(stroke=None)

chart.save("out.html", embed_options={"renderer": "svg", "actions": False})
